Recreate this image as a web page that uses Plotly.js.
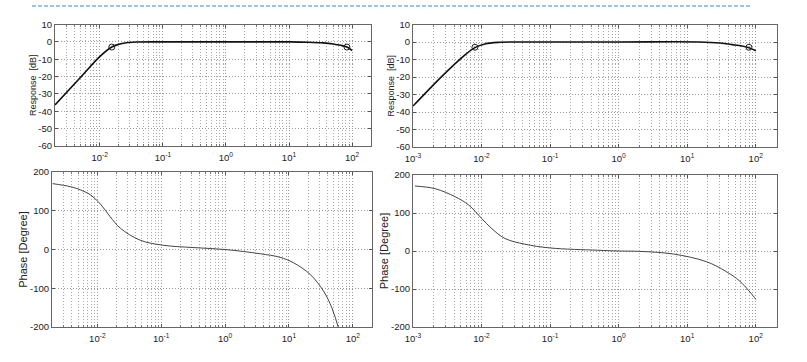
<!DOCTYPE html>
<html><head><meta charset="utf-8">
<script src="https://cdn.plot.ly/plotly-3.0.1.min.js"></script>
<style>html,body{margin:0;padding:0;background:#fff}#c{width:807px;height:362px}</style>
</head><body><div id="c"></div>
<script>
// ---- data ----
const magLeftF   = [0.00195, 0.0048, 0.010, 0.0155, 0.020, 0.0263, 0.038, 0.1, 1, 10.5, 20, 35, 50, 66, 83, 100];
const magLeftDb  = [-36.4, -21, -8.5, -3.0, -1.4, -0.5, -0.1, 0, 0, 0, -0.2, -0.6, -1.2, -2.0, -3.0, -5];
const mkLeftF    = [0.0155, 83];
const mkLeftDb   = [-3, -3];

const magRightF  = [0.001, 0.00275, 0.00537, 0.008, 0.0112, 0.0174, 0.05, 1, 15, 30, 45.7, 63, 79.5, 100];
const magRightDb = [-36.6, -18.9, -8.3, -3.2, -1.1, -0.2, 0, 0, 0, -0.6, -1.5, -2.3, -3.3, -5];
const mkRightF   = [0.008, 79.5];
const mkRightDb  = [-3, -3];

const phLeftF    = [0.002, 0.0038, 0.0054, 0.0078, 0.0112, 0.0158, 0.0229, 0.0468, 0.107, 0.316, 1, 3.55, 7.2, 11.7, 21.4, 34.7, 46.8, 59, 70];
const phLeftDeg  = [170, 162, 154, 141, 117, 85, 55, 24, 11, 5, 0, -11, -20, -34, -64, -107, -150, -200, -245];

const phRightF   = [0.00107, 0.0021, 0.0041, 0.0065, 0.01, 0.0141, 0.0219, 0.0427, 0.1, 0.5, 1, 2.04, 6.3, 19, 37, 59, 98, 100];
const phRightDeg = [171, 164, 143, 121, 86, 59, 33, 18, 8, 2, 0, -1, -8, -28, -54, -80, -125, -128];

const magTicks   = [-60, -50, -40, -30, -20, -10, 0, 10];
const phTicks    = [-200, -100, 0, 100, 200];
const decades    = [-3, -2, -1, 0, 1, 2];

// ---- log ticks: labelled decades (major), digits 2..9 (minor) ----
function logTicks(lo, hi) {
  const maj = [], txt = [], min = [];
  decades.forEach(d => {
    for (let m = 1; m <= 9; m++) {
      const v = m * Math.pow(10, d);
      if (v < lo || v > hi) continue;
      if (m === 1) { maj.push(v); txt.push('10<sup>' + d + '</sup>'); }
      else min.push(v);
    }
  });
  return {maj, txt, min};
}
const W = 807, H = 362;
const px = (a, b) => [a / W, b / W];
const py = (top, bot) => [1 - bot / H, 1 - top / H];

const leftRange  = [-2.71, 2.30];
const rightRange = [-3.0, 2.31];
const tl = logTicks(Math.pow(10, leftRange[0]), Math.pow(10, leftRange[1]));
const tr = logTicks(Math.pow(10, rightRange[0]) * 0.999, Math.pow(10, rightRange[1]));

const fontF = 'Arial, "Liberation Sans", sans-serif';
const tickFont = {family: '"Liberation Sans Narrow", "Arial Narrow", Arial, "Liberation Sans", sans-serif', size: 9.5, color: '#222'};
const GRID = '#aaaaaa', GDASH = '1px,2px';
function xax(domain, range, t) {
  return {type: 'log', domain, range, tickmode: 'array', tickvals: t.maj, ticktext: t.txt,
    ticks: 'inside', ticklen: 3, tickcolor: '#555', mirror: 'allticks', showline: true, linecolor: '#666', linewidth: 1,
    showgrid: true, gridcolor: '#999', griddash: GDASH, gridwidth: 1, zeroline: false,
    minor: {tickmode: 'array', tickvals: t.min, ticks: 'inside', ticklen: 2, tickcolor: '#777',
            showgrid: true, gridcolor: GRID, griddash: GDASH, gridwidth: 1},
    tickfont: tickFont, ticklabelstandoff: 3};
}
function yax(domain, range, ticks, title, tsize, standoff) {
  return {domain, range, tickmode: 'array', tickvals: ticks,
    ticktext: ticks.map(v => String(v)),
    ticks: 'inside', ticklen: 3, tickcolor: '#555', mirror: 'allticks', showline: true, linecolor: '#666', linewidth: 1,
    showgrid: true, gridcolor: '#999', griddash: GDASH, gridwidth: 1, zeroline: false,
    tickfont: tickFont, ticklabelstandoff: 0,
    title: {text: title, font: {family: fontF, size: tsize, color: '#222'}, standoff}};
}

const magLine = {color: '#111', width: 1.6, shape: 'spline', smoothing: 1.0};
const phLine  = {color: '#444', width: 1, shape: 'spline', smoothing: 1.0};
const mk = {symbol: 'circle-open', size: 6, color: '#222', line: {width: 1}};

const data = [
  {x: magLeftF, y: magLeftDb, mode: 'lines', line: magLine, xaxis: 'x', yaxis: 'y'},
  {x: mkLeftF, y: mkLeftDb, mode: 'markers', marker: mk, xaxis: 'x', yaxis: 'y'},
  {x: phLeftF, y: phLeftDeg, mode: 'lines', line: phLine, xaxis: 'x2', yaxis: 'y2'},
  {x: magRightF, y: magRightDb, mode: 'lines', line: magLine, xaxis: 'x3', yaxis: 'y3'},
  {x: mkRightF, y: mkRightDb, mode: 'markers', marker: mk, xaxis: 'x3', yaxis: 'y3'},
  {x: phRightF, y: phRightDeg, mode: 'lines', line: phLine, xaxis: 'x4', yaxis: 'y4'}
];

const layout = {
  width: W, height: H, margin: {l: 0, r: 0, t: 0, b: 0},
  paper_bgcolor: '#fff', plot_bgcolor: '#fff', showlegend: false,
  xaxis:  Object.assign(xax(px(55, 371), leftRange, tl), {anchor: 'y'}),
  yaxis:  Object.assign(yax(py(24.5, 146), [-60, 10], magTicks, 'Response  [dB]', 9, 0), {anchor: 'x'}),
  xaxis2: Object.assign(xax(px(52, 372), leftRange, tl), {anchor: 'y2'}),
  yaxis2: Object.assign(yax(py(172, 327), [-200, 200], phTicks, 'Phase [Degree]', 11, 0), {anchor: 'x2'}),
  xaxis3: Object.assign(xax(px(413, 777), rightRange, tr), {anchor: 'y3'}),
  yaxis3: Object.assign(yax(py(24.5, 147), [-60, 10], magTicks, 'Response  [dB]', 9, 0), {anchor: 'x3'}),
  xaxis4: Object.assign(xax(px(413, 777), rightRange, tr), {anchor: 'y4'}),
  yaxis4: Object.assign(yax(py(175, 327), [-200, 200], phTicks, 'Phase [Degree]', 11, 0), {anchor: 'x4'}),
  shapes: [
    {type: 'line', xref: 'paper', yref: 'paper', x0: 32 / W, x1: 752 / W, y0: 1 - 6 / H, y1: 1 - 6 / H,
     line: {color: '#2f8fd0', width: 1, dash: '4px,2px'}}
  ]
};
Plotly.newPlot('c', data, layout, {staticPlot: true, displayModeBar: false});
</script></body></html>
